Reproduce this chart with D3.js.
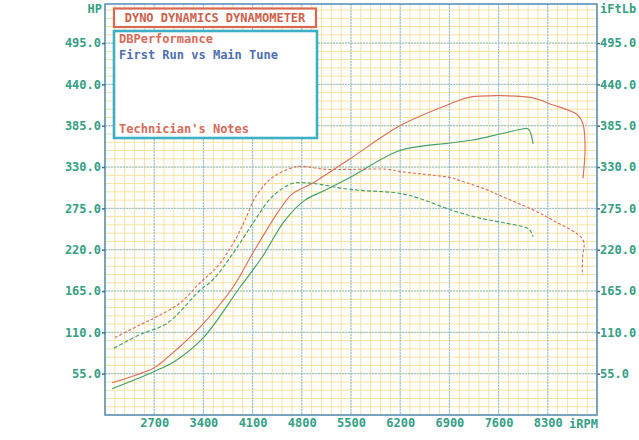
<!DOCTYPE html>
<html><head><meta charset="utf-8">
<script src="https://cdn.jsdelivr.net/npm/d3@7"></script>
<style>
html,body{margin:0;padding:0;background:#fff;}
svg{display:block;}
text{font-family:"DejaVu Sans Mono","Liberation Mono",monospace;font-weight:bold;}
</style></head>
<body>
<svg id="c" width="639" height="440"></svg>
<script>
// ---- data ----
const rpmTicks = [2700, 3400, 4100, 4800, 5500, 6200, 6900, 7600, 8300];
const valueTicks = [55, 110, 165, 220, 275, 330, 385, 440, 495];

const hpMainRpm = [2100, 2700, 2882, 3352, 3821, 4106, 4462, 4660, 4945, 5130, 5486, 6197, 6909, 7193, 7620, 8090, 8332, 8716, 8801, 8830, 8801];
const hpMain    = [43, 63, 76, 117, 170, 216, 270, 294, 308, 319, 341, 385, 414, 423, 425, 422, 414, 400, 387, 355, 315];

const hpFirstRpm = [2100, 2700, 3000, 3400, 3920, 4234, 4560, 4845, 5130, 5486, 6197, 6909, 7236, 7620, 7904, 8018, 8060, 8090];
const hpFirst    = [35, 58, 72, 103, 170, 210, 259, 286, 299, 316, 352, 362, 366, 374, 380, 381, 374, 361];

const tqMainRpm = [2142, 2498, 2740, 3067, 3352, 3593, 3821, 3990, 4140, 4380, 4660, 4800, 5130, 5500, 6014, 6200, 6480, 6909, 7049, 7400, 7620, 8090, 8375, 8801, 8795, 8790];
const tqMain    = [103, 120, 131, 149, 176, 197, 228, 259, 290, 316, 329, 331, 327, 327, 327, 324, 321, 316, 312, 301, 292, 273, 259, 233, 210, 186];

const tqFirstRpm = [2128, 2498, 2882, 3352, 3536, 3821, 4131, 4373, 4660, 4845, 5061, 5345, 5630, 6197, 6480, 6952, 7335, 7720, 8003, 8060, 8090];
const tqFirst    = [89, 107, 122, 166, 180, 215, 259, 290, 308, 309, 307, 302, 299, 295, 288, 272, 262, 255, 249, 244, 237];

const series = [
  {name: "HP Main Tune", rpm: hpMainRpm, v: hpMain, color: "#dc7058", dash: null},
  {name: "HP First Run", rpm: hpFirstRpm, v: hpFirst, color: "#42a066", dash: null},
  {name: "Torque Main Tune", rpm: tqMainRpm, v: tqMain, color: "#dc7058", dash: "3,2"},
  {name: "Torque First Run", rpm: tqFirstRpm, v: tqFirst, color: "#42a066", dash: "4,2"}
];

// ---- chart ----
const svg = d3.select("#c");
const L = 105, R = 597, T = 4, B = 415;
const x = d3.scaleLinear().domain([2000, 9000]).range([L, R]);
const y = d3.scaleLinear().domain([0, 547]).range([B, T]);

const labelColor = "#34a084";

// minor grid
const g = svg.append("g");
const minorX = d3.range(2000, 9001, 140);
const minorY = d3.range(0, 547, 11);
g.selectAll("line.mx").data(minorX).enter().append("line")
  .attr("x1", d => x(d)).attr("x2", d => x(d)).attr("y1", T).attr("y2", B)
  .attr("stroke", "#f5e3a0").attr("stroke-width", 1);
g.selectAll("line.my").data(minorY).enter().append("line")
  .attr("x1", L).attr("x2", R).attr("y1", d => y(d)).attr("y2", d => y(d))
  .attr("stroke", "#f5e3a0").attr("stroke-width", 1);
// major grid
g.selectAll("line.Mx").data(rpmTicks).enter().append("line")
  .attr("x1", d => x(d)).attr("x2", d => x(d)).attr("y1", T).attr("y2", B)
  .attr("stroke", "#86bee6").attr("stroke-width", 1).attr("stroke-dasharray", "2,1");
g.selectAll("line.My").data(valueTicks).enter().append("line")
  .attr("x1", L).attr("x2", R).attr("y1", d => y(d)).attr("y2", d => y(d))
  .attr("stroke", "#86bee6").attr("stroke-width", 1).attr("stroke-dasharray", "2,1");

// curves
const lineNat = d3.line().x(d => x(d[0])).y(d => y(d[1])).curve(d3.curveCatmullRom.alpha(0.5));
series.forEach(s => {
  const pts = s.rpm.map((r, i) => [r, s.v[i]]);
  svg.append("path").datum(pts)
    .attr("d", lineNat)
    .attr("fill", "none").attr("stroke", s.color).attr("stroke-width", 1.15)
    .attr("stroke-dasharray", s.dash);
});

// frame
svg.append("rect").attr("x", L).attr("y", T).attr("width", R - L).attr("height", B - T)
  .attr("fill", "none").attr("stroke", "#5189bb").attr("stroke-width", 1.5);

// axes
const fmt = d3.format(".1f");
const axL = svg.append("g").attr("transform", `translate(${L},0)`)
  .call(d3.axisLeft(y).tickValues(valueTicks).tickFormat(fmt).tickSize(3).tickPadding(1));
const axR = svg.append("g").attr("transform", `translate(${R},0)`)
  .call(d3.axisRight(y).tickValues(valueTicks).tickFormat(fmt).tickSize(3).tickPadding(0));
const axB = svg.append("g").attr("transform", `translate(0,${B})`)
  .call(d3.axisBottom(x).tickValues(rpmTicks).tickFormat(d3.format("d")).tickSize(0).tickPadding(3));
[axL, axR, axB].forEach(a => {
  a.select(".domain").remove();
  a.selectAll(".tick line").attr("stroke", "#3a6f9c").attr("stroke-width", 1.5);
  a.selectAll("text").attr("fill", labelColor).style("font-size", "12px")
    .style("font-family", '"DejaVu Sans Mono","Liberation Mono",monospace').style("font-weight", "bold");
});

svg.append("text").attr("x", 102).attr("y", 13).attr("text-anchor", "end")
  .attr("fill", labelColor).style("font-size", "12px").text("HP");
svg.append("text").attr("x", 600).attr("y", 13).attr("text-anchor", "start")
  .attr("fill", labelColor).style("font-size", "12px").text("iFtLb");
svg.append("text").attr("x", 569).attr("y", 428).attr("text-anchor", "start")
  .attr("fill", labelColor).style("font-size", "12px").text("iRPM");

// title box
svg.append("rect").attr("x", 114).attr("y", 8.5).attr("width", 202).attr("height", 18.5)
  .attr("fill", "#fff").attr("stroke", "#d9694f").attr("stroke-width", 2.2);
svg.append("text").attr("x", 215).attr("y", 22).attr("text-anchor", "middle")
  .attr("fill", "#d0604a").style("font-size", "12px").text("DYNO DYNAMICS DYNAMOMETER");

// info box
svg.append("rect").attr("x", 114).attr("y", 31).attr("width", 203).attr("height", 107)
  .attr("fill", "#fff").attr("stroke", "#3cb0c4").attr("stroke-width", 2.6);
svg.append("text").attr("x", 119).attr("y", 43).attr("fill", "#d86a58").style("font-size", "12px").text("DBPerformance");
svg.append("text").attr("x", 119).attr("y", 59).attr("fill", "#4f6fb0").style("font-size", "12px").text("First Run vs Main Tune");
svg.append("text").attr("x", 119).attr("y", 133).attr("fill", "#d86a58").style("font-size", "12px").text("Technician's Notes");
</script>
</body></html>
